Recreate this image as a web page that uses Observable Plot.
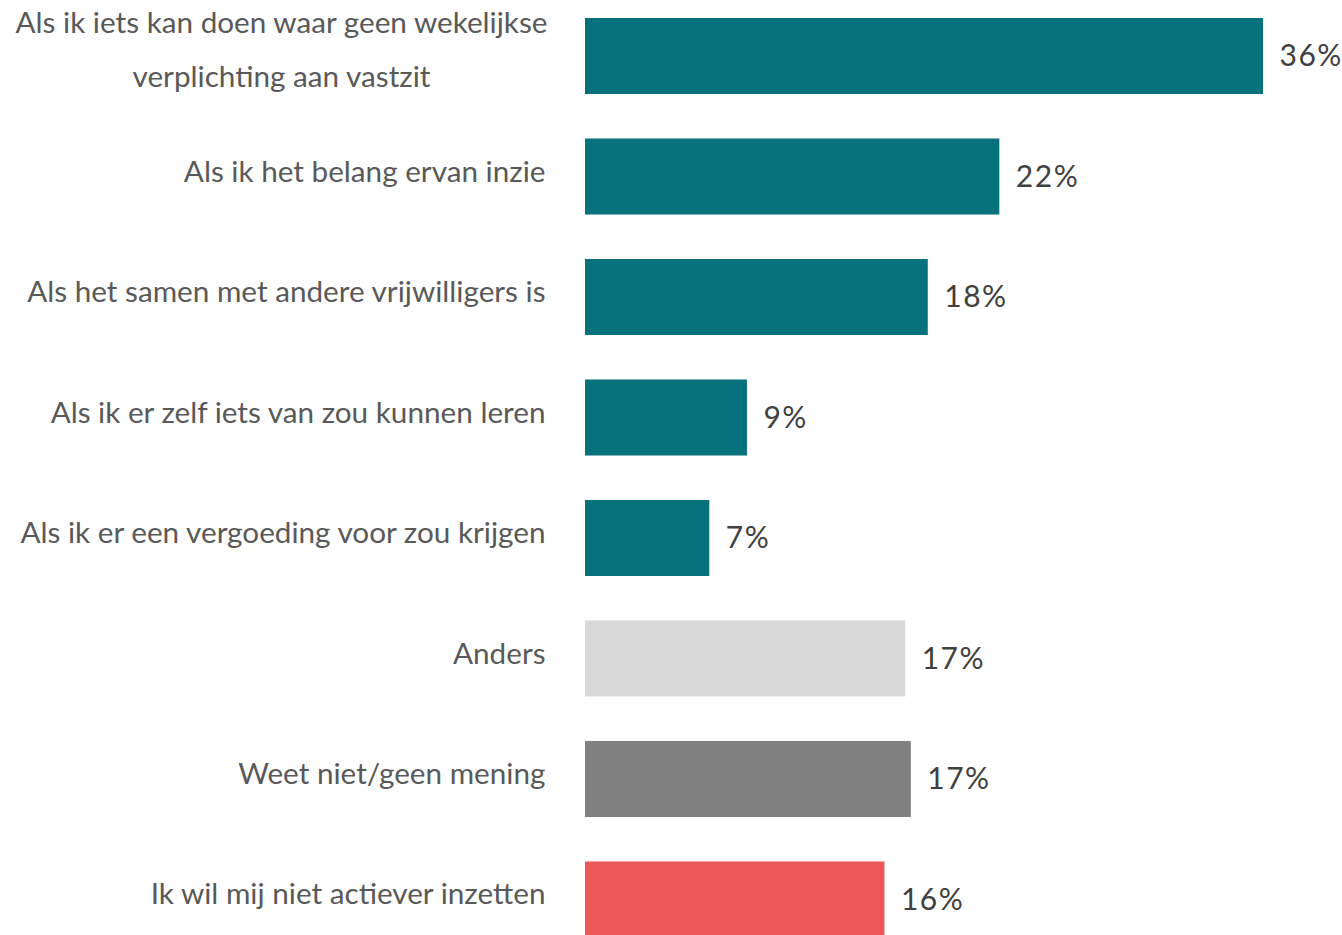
<!DOCTYPE html>
<html>
<head>
<meta charset="utf-8">
<script src="https://cdn.jsdelivr.net/npm/d3@7"></script>
<script src="https://cdn.jsdelivr.net/npm/@observablehq/plot@0.6"></script>
<style>
  html, body { margin: 0; padding: 0; background: #fff; overflow: hidden; }
  #chart svg { display: block; overflow: visible; }
</style>
</head>
<body>
<div id="chart"></div>
<script>
const categories = [
  "Als ik iets kan doen waar geen wekelijkse\nverplichting aan vastzit",
  "Als ik het belang ervan inzie",
  "Als het samen met andere vrijwilligers is",
  "Als ik er zelf iets van zou kunnen leren",
  "Als ik er een vergoeding voor zou krijgen",
  "Anders",
  "Weet niet/geen mening",
  "Ik wil mij niet actiever inzetten"
];
const values = [36, 22, 18.2, 8.6, 6.6, 17.0, 17.3, 15.9];
const valueLabels = ["36%", "22%", "18%", "9%", "7%", "17%", "17%", "16%"];
const colors = ["#07727C", "#07727C", "#07727C", "#07727C", "#07727C", "#D9D9D9", "#808080", "#EC5858"];

const data = categories.map((c, i) => ({cat: c, value: values[i], label: valueLabels[i], color: colors[i], idx: i}));
const font = "Lato, 'Open Sans', sans-serif";

const chart = Plot.plot({
  width: 1342,
  height: 935,
  marginLeft: 585,
  marginRight: 79,
  marginTop: 0,
  marginBottom: 0,
  style: {fontFamily: font, background: "#fff", overflow: "visible"},
  x: {domain: [0, 36], axis: null},
  y: {domain: categories, range: [18, 937.5], paddingInner: 0.369, paddingOuter: 0, round: false, axis: null},
  marks: [
    Plot.barX(data, {y: "cat", x: "value", fill: "color"}),
    Plot.text(data.filter(d => d.idx > 0), {
      y: "cat", x: 0, text: "cat", textAnchor: "end", dx: -40, dy: -5,
      fontSize: 29.7, fill: "#595959"
    }),
    Plot.text(data.filter(d => d.idx === 0), {
      y: "cat", x: 0, text: "cat", textAnchor: "middle", dx: -304, dy: -14,
      lineHeight: 1.82, fontSize: 29.7, fill: "#595959"
    }),
    Plot.text(data, {
      y: "cat", x: "value", text: "label", textAnchor: "start", dx: 16,
      fontSize: 30, fill: "#404040"
    })
  ]
});
const textGroups = chart.querySelectorAll('g[aria-label="text"]');
if (textGroups.length >= 3) textGroups[textGroups.length - 1].setAttribute("letter-spacing", "1.5");
document.getElementById("chart").appendChild(chart);
</script>
</body>
</html>
